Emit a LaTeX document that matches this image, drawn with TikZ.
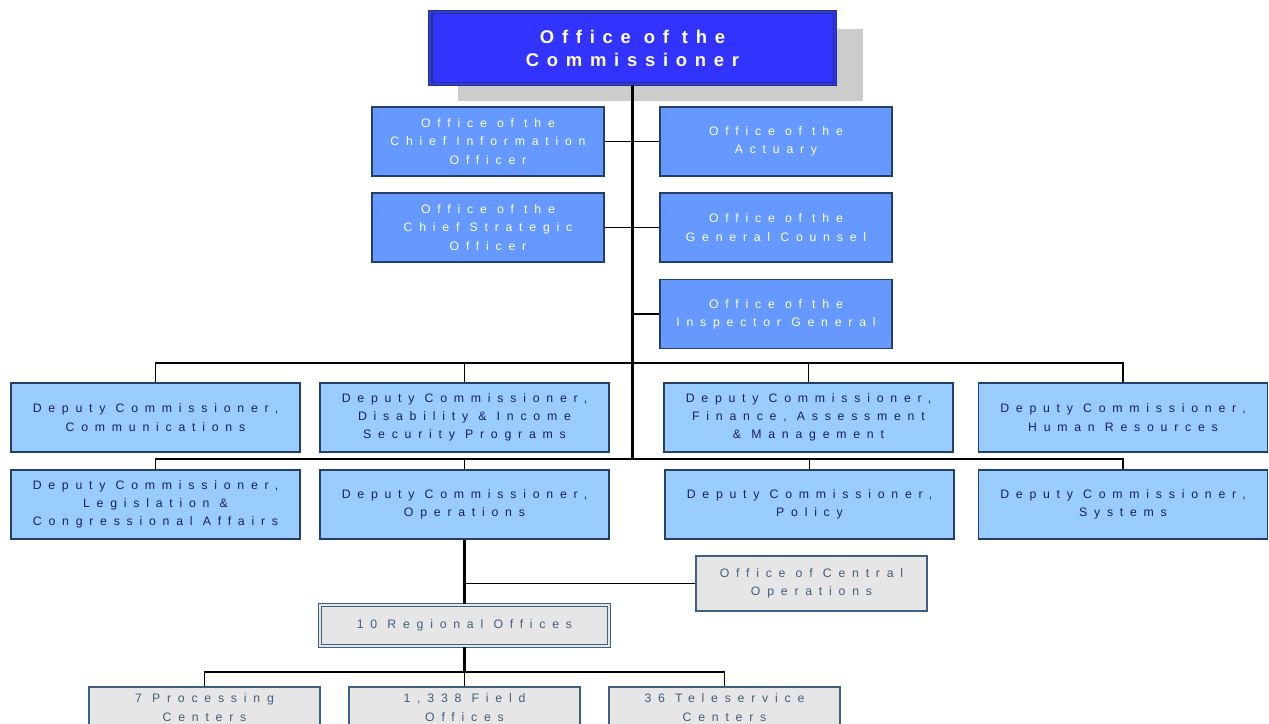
\documentclass[tikz,border=0pt]{standalone}
\usepackage{fontspec}
\newfontfamily\orgfont[LetterSpace=55]{Liberation Sans}
\newfontfamily\headfont[LetterSpace=42]{Liberation Sans}
\usetikzlibrary{shadows}
\definecolor{commblue}{HTML}{3333FF}
\definecolor{commline}{HTML}{1F3A6A}
\definecolor{officeblue}{HTML}{6699FF}
\definecolor{boxline}{HTML}{23406A}
\definecolor{deputyblue}{HTML}{99CCFF}
\definecolor{deputytext}{HTML}{1A1A70}
\definecolor{fieldgray}{HTML}{E6E6E6}
\definecolor{fieldline}{HTML}{3D5F80}

\begin{document}
\begin{tikzpicture}[x=0.02cm,y=-0.02cm,
  box/.style={draw=boxline,line width=0.8pt,align=center,inner sep=0pt,
    font={\orgfont\fontsize{7}{10.4}\selectfont}},
  office/.style={box,fill=officeblue,text=white,minimum width=4.64cm,minimum height=1.38cm},
  deputy/.style={box,fill=deputyblue,text=deputytext,minimum width=5.78cm,minimum height=1.38cm},
  field/.style={box,fill=fieldgray,draw=fieldline,text=fieldline,minimum width=4.62cm,minimum height=0.82cm},
  link/.style={line width=0.9pt},
  trunk/.style={line width=1.7pt}]
\useasboundingbox (0,0) rectangle (1269,724);
\node[box,fill=commblue,draw=commline,double=commblue,double distance=1.6pt,line width=0.6pt,
  text=white,minimum width=8.1cm,minimum height=1.44cm,
  font={\headfont\bfseries\fontsize{10.5}{13}\selectfont},
  drop shadow={shadow xshift=0.56cm,shadow yshift=-0.34cm,fill=black!20,opacity=1}]
  (comm) at (632.5,48) {Office of the\\Commissioner};
\node[office] (cio) at (488,141.5) {Office of the\\Chief Information\\Officer};
\node[office] (act) at (776,141.5) {Office of the\\Actuary};
\node[office] (cso) at (488,227.5) {Office of the\\Chief Strategic\\Officer};
\node[office] (gc) at (776,227.5) {Office of the\\General Counsel};
\node[office] (ig) at (776,314) {Office of the\\Inspector General};
\node[deputy] (dcCom) at (155.5,417.5) {Deputy Commissioner,\\Communications};
\node[deputy] (dcDis) at (464.5,417.5) {Deputy Commissioner,\\Disability \& Income\\Security Programs};
\node[deputy] (dcFin) at (808.5,417.5) {Deputy Commissioner,\\Finance, Assessment\\\& Management};
\node[deputy] (dcHR) at (1123,417.5) {Deputy Commissioner,\\Human Resources};
\node[deputy] (dcLeg) at (155.5,504.5) {Deputy Commissioner,\\Legislation \&\\Congressional Affairs};
\node[deputy] (dcOps) at (464.5,504.5) {Deputy Commissioner,\\Operations};
\node[deputy] (dcPol) at (809.5,504.5) {Deputy Commissioner,\\Policy};
\node[deputy] (dcSys) at (1123,504.5) {Deputy Commissioner,\\Systems};
\node[field,minimum height=1.1cm] (central) at (811.5,583.5) {Office of Central\\Operations};
\node[field,double=fieldgray,double distance=1.4pt,line width=0.6pt,minimum width=5.78cm]
  (reg) at (464.5,625.5) {10 Regional Offices};
\node[field] (proc) at (204.5,707.5) {7 Processing\\Centers};
\node[field] (fieldoff) at (464.5,707.5) {1,338 Field\\Offices};
\node[field] (tele) at (724.5,707.5) {36 Teleservice\\Centers};

\coordinate (busA) at (632.5,363);
\coordinate (busB) at (632.5,459);
\coordinate (busC) at (464.5,672);
\draw[link] (cio.east) -- (act.west);
\draw[link] (cso.east) -- (gc.west);
\draw[link] (ig.west) -- (ig.west -| comm.south);
\draw[link] (dcCom.north) |- (busA) -| (dcHR.north);
\draw[link] (dcDis.north) -- (dcDis.north |- busA);
\draw[link] (dcFin.north) -- (dcFin.north |- busA);
\draw[link] (dcLeg.north) |- (busB) -| (dcSys.north);
\draw[link] (dcOps.north) -- (dcOps.north |- busB);
\draw[link] (dcPol.north) -- (dcPol.north |- busB);
\draw[trunk] (comm.south) -- (busB);
\draw[trunk] (dcOps.south) -- (reg.north);
\draw[link] (central.west) -- (central.west -| dcOps.south);
\draw[trunk] (reg.south) -- (busC);
\draw[link] (proc.north) |- (busC) -| (tele.north);
\draw[link] (fieldoff.north) -- (busC);
\end{tikzpicture}
\end{document}
